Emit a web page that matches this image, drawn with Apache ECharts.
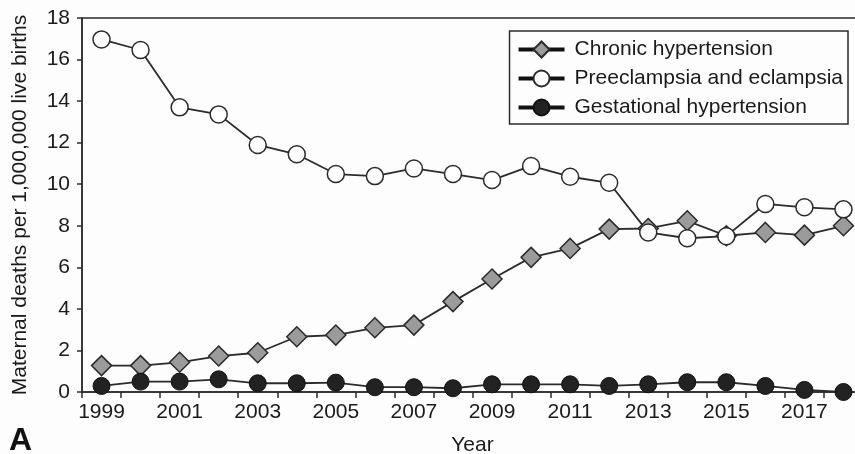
<!DOCTYPE html>
<html>
<head>
<meta charset="utf-8">
<script src="https://cdn.jsdelivr.net/npm/echarts@6/dist/echarts.min.js"></script>
<style>
html,body{margin:0;padding:0;background:#fdfdfd;}
#c{width:855px;height:454px;}
</style>
</head>
<body>
<div id="c"></div>
<script>
const years = ['1999','2000','2001','2002','2003','2004','2005','2006','2007','2008','2009','2010','2011','2012','2013','2014','2015','2016','2017','2018'];
const chronic = [1.27,1.27,1.43,1.73,1.89,2.66,2.74,3.09,3.22,4.35,5.44,6.48,6.91,7.84,7.87,8.24,7.52,7.68,7.55,8.0];
const preeclampsia = [16.97,16.46,13.70,13.36,11.89,11.44,10.49,10.39,10.76,10.49,10.20,10.88,10.36,10.07,7.68,7.40,7.50,9.05,8.89,8.79];
const gestational = [0.29,0.50,0.50,0.61,0.42,0.42,0.45,0.23,0.23,0.18,0.37,0.37,0.37,0.29,0.37,0.47,0.47,0.29,0.10,0.0];
const yTicks = [0,2,4,6,8,10,12,14,16,18];

const FONT = '"Liberation Sans", Arial, Helvetica, sans-serif';
const INK = '#2b2b2b';
const chart = echarts.init(document.getElementById('c'));
chart.setOption({
  backgroundColor: '#fdfdfd',
  animation: false,
  textStyle: {fontFamily: FONT, color: '#1a1a1a'},
  grid: {left: 82, width: 781, top: 18, height: 374, outerBoundsMode: 'none', containLabel: false,
         show: true, borderColor: INK, borderWidth: 1.5, backgroundColor: 'transparent'},
  legend: {
    orient: 'vertical', right: 7, top: 31,
    data: ['Chronic hypertension','Preeclampsia and eclampsia','Gestational hypertension'],
    itemWidth: 46, itemHeight: 20, itemGap: 8,
    padding: [8, 5, 6, 7],
    borderColor: INK, borderWidth: 1.5, backgroundColor: '#fdfdfd',
    lineStyle: {width: 4, color: '#111'},
    textStyle: {fontSize: 21, fontFamily: FONT, color: '#1a1a1a', padding: [0,0,0,5]}
  },
  xAxis: {
    type: 'category', data: years, boundaryGap: true,
    name: 'Year', nameLocation: 'middle', nameGap: 43,
    nameTextStyle: {fontSize: 21, fontFamily: FONT, color: '#1a1a1a'},
    axisLine: {lineStyle: {color: INK, width: 1.5}},
    axisTick: {show: true, interval: 0, length: 6, lineStyle: {color: INK, width: 1.5}},
    axisLabel: {interval: 1, fontSize: 21, margin: 10, color: '#1a1a1a', fontFamily: FONT},
    splitLine: {show: false}
  },
  yAxis: {
    type: 'value', min: yTicks[0], max: yTicks[yTicks.length-1], interval: 2,
    name: 'Maternal deaths per 1,000,000 live births', nameLocation: 'middle', nameGap: 51, nameRotate: 90,
    nameTextStyle: {fontSize: 21, fontFamily: FONT, color: '#1a1a1a'},
    axisLine: {show: true, lineStyle: {color: INK, width: 1.5}},
    axisTick: {show: true, length: 5, lineStyle: {color: INK, width: 1.5}},
    axisLabel: {fontSize: 21, margin: 12, color: '#1a1a1a', fontFamily: FONT},
    splitLine: {show: false}
  },
  graphic: [
    {type: 'text', left: 9, top: 425, style: {text: 'A', font: 'bold 32px ' + FONT, fill: '#111'}}
  ],
  series: [
    {name: 'Chronic hypertension', type: 'line', data: chronic, symbol: 'diamond', symbolSize: 20,
     lineStyle: {color: INK, width: 1.8}, itemStyle: {color: '#9b9b9b', borderColor: INK, borderWidth: 1.5}},
    {name: 'Preeclampsia and eclampsia', type: 'line', data: preeclampsia, symbol: 'circle', symbolSize: 17,
     lineStyle: {color: INK, width: 1.8}, itemStyle: {color: '#ffffff', borderColor: INK, borderWidth: 1.5}},
    {name: 'Gestational hypertension', type: 'line', data: gestational, symbol: 'circle', symbolSize: 17,
     lineStyle: {color: INK, width: 1.8}, itemStyle: {color: '#222222', borderColor: '#111', borderWidth: 1}}
  ]
});
</script>
</body>
</html>
